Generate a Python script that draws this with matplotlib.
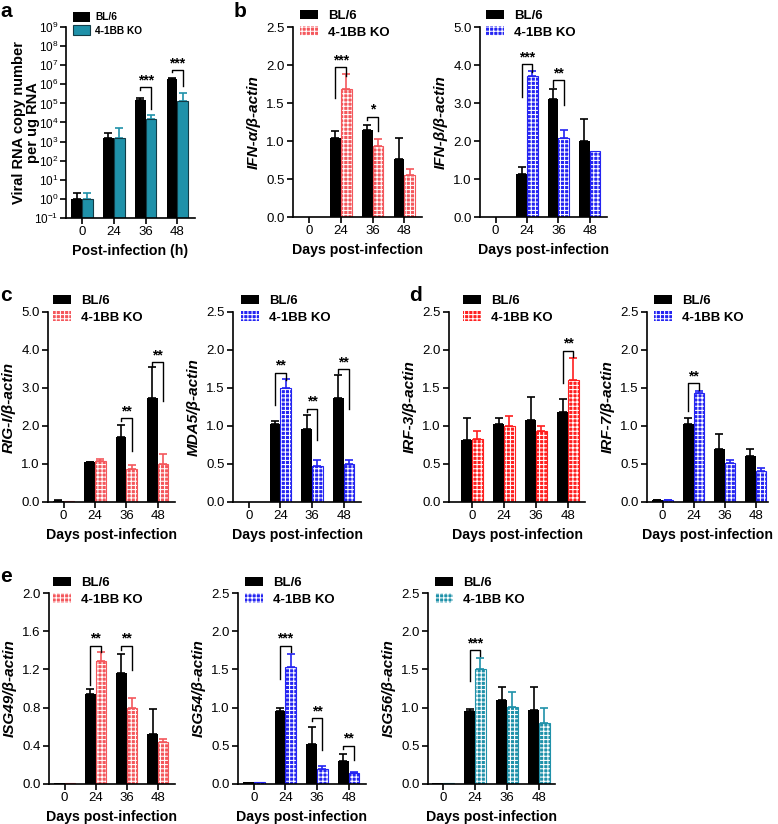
import matplotlib
matplotlib.use('Agg')
import matplotlib.pyplot as plt
from matplotlib.patches import Patch
from matplotlib.legend_handler import HandlerTuple
from matplotlib.ticker import LogLocator, NullLocator, FormatStrFormatter, MultipleLocator
import numpy as np

plt.rcParams['font.family'] = ['Liberation Sans', 'DejaVu Sans']
plt.rcParams['mathtext.default'] = 'regular'
plt.rcParams['hatch.linewidth'] = 0.75
plt.rcParams['axes.linewidth'] = 1.2

times = ['0', '24', '36', '48']

# a: viral RNA copy number per ug RNA
viral_bl = [1.0, 1.5e3, 1.6e5, 1.8e6]
viral_bl_err = [1.1, 1.4e3, 0.4e5, 0.4e6]
viral_ko = [1.0, 1.6e3, 1.5e4, 1.3e5]
viral_ko_err = [1.1, 3.3e3, 1.0e4, 2.0e5]
viral_sig = [(2, 6.9e5, 5.0e5, 4.9e4, '***'), (3, 5.5e6, 4.2e6, 8.0e5, '***')]

# b: IFN-alpha, IFN-beta
ifna_bl = [0, 1.04, 1.14, 0.76]
ifna_bl_err = [0, 0.09, 0.07, 0.28]
ifna_ko = [0, 1.68, 0.93, 0.55]
ifna_ko_err = [0, 0.20, 0.10, 0.08]
ifna_sig = [(1, 1.97, 1.56, 1.86, '***'), (2, 1.32, 1.27, 1.13, '*')]

ifnb_bl = [0, 1.12, 3.11, 1.99]
ifnb_bl_err = [0, 0.20, 0.27, 0.60]
ifnb_ko = [0, 3.70, 2.09, 1.73]
ifnb_ko_err = [0, 0.13, 0.19, 0]
ifnb_sig = [(1, 4.02, 3.16, 3.82, '***'), (2, 3.60, 3.42, 2.96, '**')]

# c: RIG-I, MDA5
rig_bl = [0.03, 1.04, 1.71, 2.74]
rig_bl_err = [0.01, 0.02, 0.31, 0.80]
rig_ko = [0.02, 1.08, 0.88, 0.99]
rig_ko_err = [0, 0.06, 0.10, 0.28]
rig_sig = [(2, 2.21, 2.12, 1.35, '**'), (3, 3.68, 3.58, 2.65, '**')]

mda_bl = [0, 1.03, 0.96, 1.37]
mda_bl_err = [0, 0.03, 0.18, 0.30]
mda_ko = [0, 1.50, 0.48, 0.50]
mda_ko_err = [0, 0.12, 0.07, 0.05]
mda_sig = [(1, 1.70, 1.28, 1.61, '**'), (2, 1.23, 1.18, 0.82, '**'), (3, 1.75, 1.70, 1.22, '**')]

# d: IRF-3, IRF-7
irf3_bl = [0.81, 1.03, 1.08, 1.18]
irf3_bl_err = [0.30, 0.07, 0.30, 0.18]
irf3_ko = [0.83, 1.00, 0.93, 1.61]
irf3_ko_err = [0.10, 0.13, 0.07, 0.29]
irf3_sig = [(3, 1.99, 1.57, 1.91, '**')]

irf7_bl = [0.02, 1.03, 0.70, 0.60]
irf7_bl_err = [0.01, 0.07, 0.20, 0.10]
irf7_ko = [0.02, 1.43, 0.51, 0.41]
irf7_ko_err = [0.01, 0.03, 0.04, 0.04]
irf7_sig = [(1, 1.56, 1.20, 1.48, '**')]

# e: ISG49, ISG54, ISG56
isg49_bl = [0.01, 0.94, 1.16, 0.52]
isg49_bl_err = [0, 0.05, 0.20, 0.27]
isg49_ko = [0.01, 1.29, 0.80, 0.44]
isg49_ko_err = [0, 0.09, 0.10, 0.03]
isg49_sig = [(1, 1.45, 1.04, 1.38, '**'), (2, 1.45, 1.40, 1.19, '**')]

isg54_bl = [0.02, 0.96, 0.53, 0.30]
isg54_bl_err = [0, 0.04, 0.21, 0.09]
isg54_ko = [0.02, 1.53, 0.19, 0.14]
isg54_ko_err = [0, 0.17, 0.04, 0.02]
isg54_sig = [(1, 1.81, 1.38, 1.73, '***'), (2, 0.86, 0.82, 0.44, '**'), (3, 0.50, 0.46, 0.32, '**')]

isg56_bl = [0.01, 0.95, 1.10, 0.97]
isg56_bl_err = [0, 0.03, 0.17, 0.30]
isg56_ko = [0.01, 1.50, 1.01, 0.80]
isg56_ko_err = [0, 0.15, 0.20, 0.20]
isg56_sig = [(1, 1.75, 1.35, 1.67, '***')]

W, H = 778, 824
fig = plt.figure(figsize=(W / 100, H / 100), dpi=100)

RED = '#f4575c'
RED2 = '#ff1f1f'
BLUE = '#2424f2'
TEAL = '#1f91a9'
BW = 0.34
HATCH = '++++'


def make_axes(left, top, right, bottom):
    return fig.add_axes([left / W, 1 - bottom / H, (right - left) / W, (bottom - top) / H])


def draw(ax, bl, bl_err, ko, ko_err, color, sig, ylabel, ymax, ystep, fmt,
         xlim=(-0.5, 3.55), checker=True, logy=False, leg_xy=None, leg_fs=9.5):
    x = np.arange(len(times))
    ax.bar(x - BW / 2, bl, BW, color='black', zorder=2)
    if checker:
        ax.bar(x + BW / 2, ko, BW, color=color, linewidth=0, zorder=2)
        ax.bar(x + BW / 2, ko, BW, facecolor='none', edgecolor='white', hatch=HATCH,
               linewidth=0, zorder=2.1)
        ax.bar(x + BW / 2, ko, BW, facecolor='none', edgecolor=color, linewidth=0.8, zorder=2.2)
    else:
        ax.bar(x + BW / 2, ko, BW, color=color, edgecolor='#123c47', linewidth=0.8, zorder=2)
    for xs, ys, es, c in ((x - BW / 2, bl, bl_err, 'black'), (x + BW / 2, ko, ko_err, color)):
        ys = np.asarray(ys, float)
        es = np.asarray(es, float)
        m = es > 0
        if m.any():
            ax.errorbar(xs[m], ys[m], yerr=[np.zeros(m.sum()), es[m]], fmt='none', ecolor=c,
                        elinewidth=1.2, capsize=3, capthick=1.2, zorder=1.9)
    for i, top, lb, rb, stars in sig:
        xl, xr = i - BW / 2, i + BW / 2
        ax.plot([xl, xl, xr, xr], [lb, top, top, rb], color='black', lw=1.0, zorder=3)
        ax.text(i, top, stars, ha='center', va='bottom', fontsize=10, fontweight='bold')

    ax.spines['top'].set_visible(False)
    ax.spines['right'].set_visible(False)
    ax.set_xlim(*xlim)
    ax.set_xticks(x)
    ax.set_xticklabels(times)
    ax.tick_params(direction='out', length=4, width=1.2, labelsize=9.5, pad=2)
    if logy:
        ax.set_yscale('log')
        ax.set_ylim(0.1, 1e9)
        ax.yaxis.set_major_locator(LogLocator(base=10, numticks=20))
        ax.yaxis.set_minor_locator(NullLocator())
        ax.tick_params(axis='y', labelsize=8.5, pad=1.5)
        ax.set_xlabel('Post-infection (h)', fontsize=10.2, fontweight='bold')
        ax.set_ylabel(ylabel, fontsize=10.5, fontweight='bold', linespacing=0.95)
        ax.yaxis.set_label_coords(-0.205, 0.5)
    else:
        ax.set_ylim(0, ymax)
        ax.yaxis.set_major_locator(MultipleLocator(ystep))
        ax.yaxis.set_major_formatter(FormatStrFormatter(fmt))
        ax.set_xlabel('Days post-infection', fontsize=10.2, fontweight='bold')
        ax.set_ylabel(ylabel, fontsize=11, fontweight='bold', style='italic', labelpad=4)

    bl_h = Patch(facecolor='black', edgecolor='none')
    if checker:
        ko_h = (Patch(facecolor=color, edgecolor='none'),
                Patch(facecolor='none', edgecolor='white', hatch=HATCH, linewidth=0))
    else:
        ko_h = Patch(facecolor=color, edgecolor='#123c47', linewidth=0.8)
    hl = 1.7 if leg_fs < 9 else 1.36
    hh = 1.1 if leg_fs < 9 else 0.72
    tp = 0.5 if leg_fs < 9 else 0.76
    ax.legend([bl_h, ko_h], ['BL/6', '4-1BB KO'], loc='upper left',
              bbox_to_anchor=(leg_xy[0] / W, 1 - leg_xy[1] / H),
              bbox_transform=fig.transFigure, frameon=False, borderpad=0, borderaxespad=0,
              handlelength=hl, handleheight=hh, handletextpad=tp, labelspacing=0.3,
              prop={'weight': 'bold', 'size': leg_fs},
              handler_map={tuple: HandlerTuple(ndivide=1, pad=0)})
    return ax


ax_a = make_axes(66, 27, 195, 218)
draw(ax_a, viral_bl, viral_bl_err, viral_ko, viral_ko_err, TEAL, viral_sig,
     'Viral RNA copy number\nper ug RNA', None, None, None, checker=False, logy=True,
     leg_xy=(73, 12), leg_fs=7.3)

ax_b1 = make_axes(293, 27, 422, 217)
draw(ax_b1, ifna_bl, ifna_bl_err, ifna_ko, ifna_ko_err, RED, ifna_sig,
     'IFN-α/β-actin', 2.5, 0.5, '%.1f', leg_xy=(300, 10))

ax_b2 = make_axes(480, 27, 607, 217)
draw(ax_b2, ifnb_bl, ifnb_bl_err, ifnb_ko, ifnb_ko_err, BLUE, ifnb_sig,
     'IFN-β/β-actin', 5.0, 1.0, '%.1f', leg_xy=(486, 10))

ax_c1 = make_axes(48, 312, 175, 502)
draw(ax_c1, rig_bl, rig_bl_err, rig_ko, rig_ko_err, RED, rig_sig,
     'RIG-I/β-actin', 5.0, 1.0, '%.1f', leg_xy=(53, 295))

ax_c2 = make_axes(233, 312, 361, 502)
draw(ax_c2, mda_bl, mda_bl_err, mda_ko, mda_ko_err, BLUE, mda_sig,
     'MDA5/β-actin', 2.5, 0.5, '%.1f', leg_xy=(241, 295))

ax_d1 = make_axes(449, 312, 585, 502)
draw(ax_d1, irf3_bl, irf3_bl_err, irf3_ko, irf3_ko_err, RED2, irf3_sig,
     'IRF-3/β-actin', 2.5, 0.5, '%.1f', xlim=(-0.72, 3.53), leg_xy=(463, 295))

ax_d2 = make_axes(647, 312, 768, 502)
draw(ax_d2, irf7_bl, irf7_bl_err, irf7_ko, irf7_ko_err, BLUE, irf7_sig,
     'IRF-7/β-actin', 2.5, 0.5, '%.1f', xlim=(-0.5, 3.4), leg_xy=(654, 295))

ax_e1 = make_axes(49, 593, 175, 784)
draw(ax_e1, isg49_bl, isg49_bl_err, isg49_ko, isg49_ko_err, RED, isg49_sig,
     'ISG49/β-actin', 2.0, 0.4, '%.1f', leg_xy=(53, 577))

ax_e2 = make_axes(238, 593, 366, 784)
draw(ax_e2, isg54_bl, isg54_bl_err, isg54_ko, isg54_ko_err, BLUE, isg54_sig,
     'ISG54/β-actin', 2.5, 0.5, '%.1f', leg_xy=(245, 577))

ax_e3 = make_axes(428, 593, 555, 784)
draw(ax_e3, isg56_bl, isg56_bl_err, isg56_ko, isg56_ko_err, TEAL, isg56_sig,
     'ISG56/β-actin', 2.5, 0.5, '%.1f', xlim=(-0.47, 3.5), leg_xy=(435, 577))

for letter, (px, py) in {'a': (0, 2), 'b': (234, 2), 'c': (0, 286), 'd': (409, 286),
                         'e': (0, 567)}.items():
    fig.text(px / W, 1 - py / H, letter, fontsize=15, fontweight='bold', va='top', ha='left')

fig.savefig('out.png', dpi=100)
